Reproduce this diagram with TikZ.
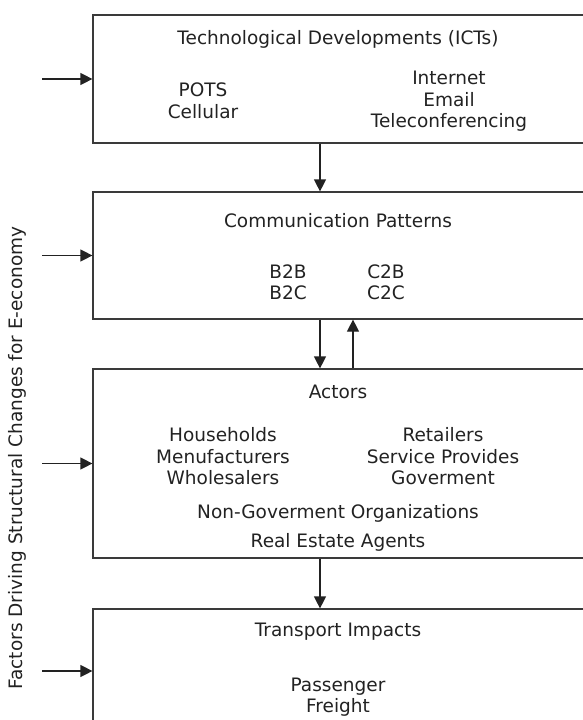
\documentclass[tikz,border=0pt]{standalone}
\usepackage{fontspec}
\setmainfont{DejaVu Sans}
\usetikzlibrary{positioning, arrows.meta}
\definecolor{boxgray}{HTML}{3A3A3A}
\definecolor{inkgray}{HTML}{222222}

\begin{document}
\begin{tikzpicture}[x=1pt, y=-1pt]
	% styles for boxes, arrows and text
	\tikzset{
		panel/.style={
			draw=boxgray, line width=1.2pt,
			minimum width=491pt, inner sep=0pt
		},
		flow/.style={
			draw=inkgray, line width=1.2pt,
			-{Triangle[length=12pt, width=12pt]}
		},
		txt/.style={
			inner sep=0pt, align=center, text=inkgray,
			font=\fontsize{18.5}{21.5}\selectfont
		}
	}
	\useasboundingbox (0,0) rectangle (583,720);
	\clip (0,0) rectangle (583,720);
	
	% the four boxes (right and bottom edges run off the page)
	\node[panel, minimum height=128pt] (tech) at (338.5,79) {};
	\node[panel, minimum height=127pt] (comm) at (338.5,255.5) {};
	\node[panel, minimum height=189pt] (actors) at (338.5,463.5) {};
	\node[panel, minimum height=124pt] (impact) at (338.5,671) {};
	
	% box 1
	\node[txt] (techtitle) at (338,39) {Technological Developments (ICTs)};
	\node[txt] (techleft) at (203,101) {POTS\\Cellular};
	\node[txt] (techright) at (449,101.5) {Internet\\Email\\Teleconferencing};
	
	% box 2
	\node[txt] (commtitle) at (338,221) {Communication Patterns};
	\node[txt] (commleft) at (288,282.5) {B2B\\B2C};
	\node[txt] (commright) at (386,282.5) {C2B\\C2C};
	
	% box 3
	\node[txt] (actortitle) at (338,392) {Actors};
	\node[txt] (actorleft) at (223,456.5) {Households\\Menufacturers\\Wholesalers};
	\node[txt] (actorright) at (443,456.5) {Retailers\\Service Provides\\Goverment};
	\node[txt] (ngo) at (338,513) {Non-Goverment Organizations};
	\node[txt] (estate) at (338,542) {Real Estate Agents};
	
	% box 4
	\node[txt] (impacttitle) at (338,632) {Transport Impacts};
	\node[txt] (impactlist) at (338,697) {Passenger\\Freight};
	
	% side label
	\node[txt, rotate=90] (factors) at (17,458)
		{Factors Driving Structural Changes for E-economy};
	
	% arrows between the boxes
	\draw[flow] ([xshift=-18.5pt]tech.south) -- ([xshift=-18.5pt]comm.north);
	\draw[flow] ([xshift=-18.5pt]comm.south) -- ([xshift=-18.5pt]actors.north);
	\draw[flow] ([xshift=14.5pt]actors.north) -- ([xshift=14.5pt]comm.south);
	\draw[flow] ([xshift=-18.5pt]actors.south) -- ([xshift=-18.5pt]impact.north);
	
	% arrows coming in from the left
	\foreach \b in {tech,comm,actors,impact} {
		\coordinate (\b in) at ([xshift=-50pt]\b.west);
		\draw[flow] (\b in) -- (\b.west);
	}
\end{tikzpicture}
\end{document}
